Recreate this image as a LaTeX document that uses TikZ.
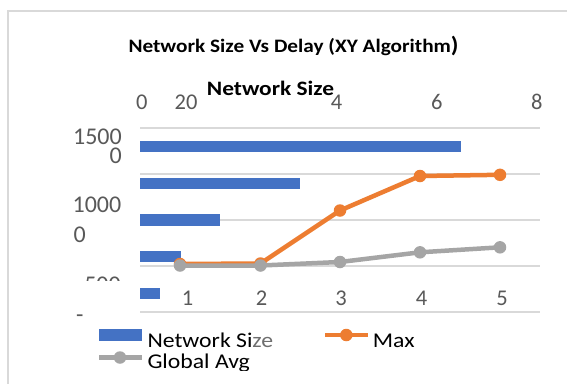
\documentclass[tikz,border=0pt]{standalone}
\usepackage{fontspec}
\setmainfont{Carlito}
\definecolor{barblue}{HTML}{4472C4}
\definecolor{maxorange}{HTML}{ED7D31}
\definecolor{avggray}{HTML}{A5A5A5}
\definecolor{gridgray}{HTML}{D9D9D9}
\definecolor{ticktext}{HTML}{595959}
\definecolor{fadetext}{HTML}{6E6E6E}
% horizontally widened text
\newcommand{\widetxt}[2]{\scalebox{#1}[1]{#2}}
\begin{document}
\begin{tikzpicture}[x=1pt,y=-1pt,
  grid/.style={gridgray,line width=1.5pt},
  tick/.style={inner sep=0pt,text=ticktext,font=\fontsize{22.5}{22.5}\selectfont},
  ytick/.style={inner sep=0pt,text=ticktext,font=\fontsize{24}{24}\selectfont},
  legtext/.style={inner sep=0pt,anchor=base west,text=black,font=\fontsize{21}{21}\selectfont},
  bar/.style={fill=barblue},
  maxline/.style={maxorange,line width=4.5pt,line join=round},
  avgline/.style={avggray,line width=4.5pt,line join=round},
  maxdot/.style={circle,fill=maxorange,inner sep=0pt,minimum size=12.5pt},
  avgdot/.style={circle,fill=avggray,inner sep=0pt,minimum size=12.5pt}]
\useasboundingbox (0,0) rectangle (567,383);
\fill[white] (0,0) rectangle (567,383);
% chart frame
\draw[grid] (8,390) -- (8,11) -- (575,11);

% titles
\node[anchor=base west,inner sep=0pt,font=\bfseries\fontsize{19}{19}\selectfont] (title) at (128.3,52.3)
  {\widetxt{1.12}{Network Size Vs Delay (XY Algorithm{\fontsize{22}{22}\selectfont)}}};
\node[anchor=base west,inner sep=0pt,font=\bfseries\fontsize{20.5}{20.5}\selectfont] (axtitle) at (206.7,95)
  {\widetxt{1.14}{Network Size}};

% secondary (top) value axis labels
\node[tick,anchor=base] (t0) at (141.7,109) {0};
\node[tick,anchor=base] (t2) at (186,109) {20};
\node[tick,anchor=base] (t4) at (336.5,109) {4};
\node[tick,anchor=base] (t6) at (436.7,109) {6};
\node[tick,anchor=base] (t8) at (536.7,109) {8};

% left value axis labels
\node[ytick,anchor=base east] (y15a) at (122,144) {1500};
\node[ytick,anchor=base east] (y15b) at (122,163.3) {0};
\node[ytick,anchor=base east] (y10a) at (121.5,212.3) {1000};
\node[ytick,anchor=base west] (y10b) at (73.3,242.5) {0};
\begin{scope}
  \clip (60,276.6) rectangle (130,280.2);
  \node[ytick,anchor=base east] (y5) at (121,292) {500};
\end{scope}
\node[ytick,anchor=base] (y0) at (79.7,322) {-};

% gridlines
\foreach \gy in {128,174,220,266,312}
  \draw[grid] (140,\gy) -- (540,\gy);

% horizontal bars
\fill[bar] (140,141) rectangle (460.7,152);
\fill[bar] (140,178) rectangle (300.3,189);
\fill[bar] (140,214.3) rectangle (220.3,225.7);
\fill[bar] (140,251) rectangle (180.7,262);
\fill[bar] (140,288.3) rectangle (160.3,299.3);

% category axis labels
\node[tick,anchor=base] (c1) at (187.5,305) {1};
\node[tick,anchor=base] (c2) at (261.5,305) {2};
\node[tick,anchor=base] (c3) at (341,305) {3};
\node[tick,anchor=base] (c4) at (421.5,305) {4};
\node[tick,anchor=base] (c5) at (502,305) {5};

% Max series
\node[maxdot] (m1) at (180,264) {};
\node[maxdot] (m2) at (260.5,263.5) {};
\node[maxdot] (m3) at (340,210.5) {};
\node[maxdot] (m4) at (420,176) {};
\node[maxdot] (m5) at (500,174.8) {};
\draw[maxline] (m1.center) -- (m2.center) -- (m3.center) -- (m4.center) -- (m5.center);

% Global Avg series
\node[avgdot] (g1) at (180,265.5) {};
\node[avgdot] (g2) at (260.5,265.5) {};
\node[avgdot] (g3) at (340,262) {};
\node[avgdot] (g4) at (420,252.3) {};
\node[avgdot] (g5) at (500,247.3) {};
\draw[avgline] (g1.center) -- (g2.center) -- (g3.center) -- (g4.center) -- (g5.center);

% legend
\begin{scope}
  \clip (0,320) rectangle (567,370);
  \fill[bar] (99,329) rectangle (141.7,340.7);
  \node[legtext] (lns) at (147.3,347.3) {\widetxt{1.13}{Network Si\textcolor{fadetext}{ze}}};
  \coordinate (lma) at (325,335);
  \coordinate (lmb) at (367.7,335);
  \draw[maxline] (lma) -- (lmb);
  \node[maxdot] (lmdot) at (346.3,335) {};
  \node[legtext] (lmax) at (372.7,347.3) {\widetxt{1.13}{Max}};
  \coordinate (lga) at (99,357.5);
  \coordinate (lgb) at (141.7,357.5);
  \draw[avgline] (lga) -- (lgb);
  \node[avgdot] (lgdot) at (120,357.5) {};
  \node[legtext] (lavg) at (147.3,368.3) {\widetxt{1.13}{Global Avg}};
\end{scope}
\end{tikzpicture}
\end{document}
